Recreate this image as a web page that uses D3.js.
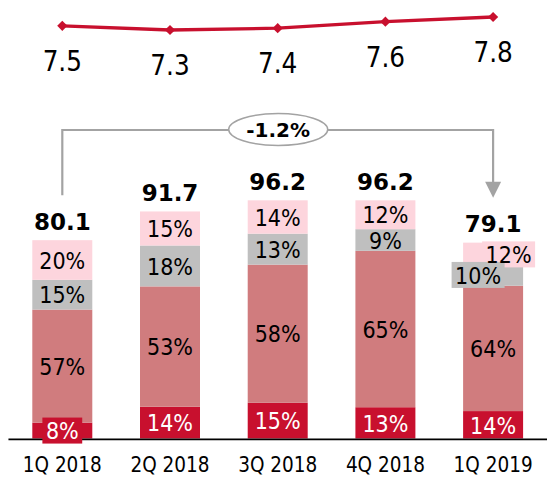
<!DOCTYPE html>
<html>
<head>
<meta charset="utf-8">
<script src="https://cdn.jsdelivr.net/npm/d3@7"></script>
<style>
  html, body { margin: 0; padding: 0; background: #fff; }
  svg { display: block; }
  text { font-family: "DejaVu Sans", Verdana, sans-serif; }
  text.cond { font-family: "DejaVu Sans Condensed", "DejaVu Sans", sans-serif; font-stretch: condensed; }
</style>
</head>
<body>
<svg id="chart" width="547" height="477"></svg>
<script>
// ---- data ----
const categories = ["1Q 2018", "2Q 2018", "3Q 2018", "4Q 2018", "1Q 2019"];
const totals = [80.1, 91.7, 96.2, 96.2, 79.1];
const lineValues = [7.46, 7.30, 7.37, 7.62, 7.80];
const shareBottom = [8, 14, 15, 13, 14];
const shareMid = [57, 53, 58, 65, 64];
const shareGrey = [15, 18, 13, 9, 10];
const shareTop = [20, 15, 14, 12, 12];

// ---- styling / layout config ----
const W = 547, H = 477;
const seriesShares = [shareBottom, shareMid, shareGrey, shareTop];
const seriesColors = ["#C8102E", "#D07C7E", "#BFBFBF", "#FDD5DD"];
const seriesTextColors = ["#ffffff", "#000000", "#000000", "#000000"];
// labels that carry a filled box (and optional nudge)
const labelBoxes = [
  { cat: "1Q 2018", series: 0, dx: 0, dy: 0 },
  { cat: "1Q 2019", series: 3, dx: 15.5, dy: 0 },
  { cat: "1Q 2019", series: 2, dx: -15, dy: -1 }
];

const svg = d3.select("#chart");

const x = d3.scaleBand().domain(categories).range([8.45, 546.95])
  .paddingInner(0.443).paddingOuter(0.2215);
const y = d3.scaleLinear().domain([0, 100]).range([438.5, 438.5 - 247.6]);
const yLine = d3.scaleLinear().domain([7.3, 7.8]).range([30, 17]);

// build stacked segments (normalised so the bar height equals total)
const segs = [];
categories.forEach((c, i) => {
  const sum = d3.sum(seriesShares, s => s[i]);
  let acc = 0;
  seriesShares.forEach((s, k) => {
    const v = totals[i] * s[i] / sum;
    segs.push({ cat: c, i, k, share: s[i], y0: acc, y1: acc + v });
    acc += v;
  });
});

// bars
svg.append("g").selectAll("rect").data(segs).join("rect")
  .attr("x", d => x(d.cat))
  .attr("width", x.bandwidth())
  .attr("y", d => y(d.y1))
  .attr("height", d => y(d.y0) - y(d.y1))
  .attr("fill", d => seriesColors[d.k]);

// axis line
const axis = d3.axisBottom(x).tickSize(0).tickPadding(0);
const gAxis = svg.append("g").attr("transform", "translate(0,439.3)").call(axis);
gAxis.select(".domain").attr("stroke", "#000").attr("stroke-width", 1.8)
  .attr("d", `M${x.range()[0]},0H${W}`);
gAxis.attr("font-family", null).attr("font-size", null);
gAxis.selectAll(".tick text")
  .attr("class", "cond")
  .attr("font-size", 20.5)
  .attr("fill", "#000")
  .attr("y", 32.4)
  .attr("dy", 0);

// bracket with arrow
const fmtPct = d3.formatLocale({ decimal: ".", thousands: ",", grouping: [3], currency: ["", ""], minus: "-" }).format(".1%");
const first = 0, last = categories.length - 1;
const bracketY = 130;
const xa = x(categories[first]) + x.bandwidth() / 2;
const xb = x(categories[last]) + x.bandwidth() / 2;
const yStartA = y(totals[first]) - 45;
const yEndB = y(totals[last]) - 45;
const grey = "#A3A3A3";
svg.append("path")
  .attr("d", `M${xa},${yStartA}V${bracketY}H${xb}V${yEndB - 15}`)
  .attr("fill", "none").attr("stroke", grey).attr("stroke-width", 2.2);
svg.append("path")
  .attr("d", `M${xb - 8},${yEndB - 16}L${xb + 8},${yEndB - 16}L${xb},${yEndB}Z`)
  .attr("fill", grey);
const xm = x(categories[2]) + x.bandwidth() / 2 + 0.5;
svg.append("ellipse").attr("cx", xm).attr("cy", bracketY - 0.5)
  .attr("rx", 49.5).attr("ry", 16)
  .attr("fill", "#fff").attr("stroke", grey).attr("stroke-width", 1.5);
svg.append("text").attr("x", xm).attr("y", bracketY - 0.5).attr("dy", "0.36em")
  .attr("text-anchor", "middle").attr("font-weight", "bold").attr("font-size", 20)
  .attr("fill", "#000")
  .text(fmtPct((totals[last] - totals[first]) / totals[first]));

// total labels
svg.append("g").selectAll("text").data(categories).join("text")
  .attr("x", d => x(d) + x.bandwidth() / 2)
  .attr("y", (d, i) => y(totals[i]) - 10.5)
  .attr("text-anchor", "middle")
  .attr("font-weight", "bold")
  .attr("font-size", 23)
  .attr("fill", "#000")
  .text((d, i) => d3.format(".1f")(totals[i]));

// line
const lineGen = d3.line()
  .x((d, i) => x(categories[i]) + x.bandwidth() / 2)
  .y(d => yLine(d));
svg.append("path").datum(lineValues)
  .attr("d", lineGen).attr("fill", "none")
  .attr("stroke", "#C8102E").attr("stroke-width", 3.3);
svg.append("g").selectAll("path").data(lineValues).join("path")
  .attr("d", d3.symbol().type(d3.symbolSquare).size(52))
  .attr("transform", (d, i) => `translate(${x(categories[i]) + x.bandwidth() / 2},${yLine(d)}) rotate(45)`)
  .attr("fill", "#C8102E");
svg.append("g").selectAll("text").data(lineValues).join("text")
  .attr("class", "cond")
  .attr("x", (d, i) => x(categories[i]) + x.bandwidth() / 2)
  .attr("y", d => yLine(d) + 45)
  .attr("text-anchor", "middle")
  .attr("font-size", 27.5)
  .attr("fill", "#000")
  .text(d => d3.format(".1f")(d));

// percentage labels
const gBoxes = svg.append("g");
const gLabels = svg.append("g");
const labelPos = d => {
  const b = labelBoxes.find(l => l.cat === d.cat && l.series === d.k);
  return {
    x: x(d.cat) + x.bandwidth() / 2 + (b ? b.dx : 0),
    y: (y(d.y0) + y(d.y1)) / 2 + (b ? b.dy : 0),
    box: b
  };
};
const labels = gLabels.selectAll("text").data(segs).join("text")
  .attr("class", "cond")
  .attr("x", d => labelPos(d).x)
  .attr("y", d => labelPos(d).y)
  .attr("dy", "0.38em")
  .attr("text-anchor", "middle")
  .attr("font-size", 23)
  .attr("fill", d => seriesTextColors[d.k])
  .text(d => d.share + "%");

labelBoxes.forEach(b => {
  const d = segs.find(s => s.cat === b.cat && s.k === b.series);
  const node = labels.filter(s => s === d).node();
  const bb = node.getBBox();
  const p = labelPos(d);
  const bw = bb.width + 7, bh = 26;
  gBoxes.append("rect")
    .attr("x", p.x - bw / 2).attr("y", p.y - bh / 2)
    .attr("width", bw).attr("height", bh)
    .attr("fill", seriesColors[b.series]);
});
</script>
</body>
</html>
